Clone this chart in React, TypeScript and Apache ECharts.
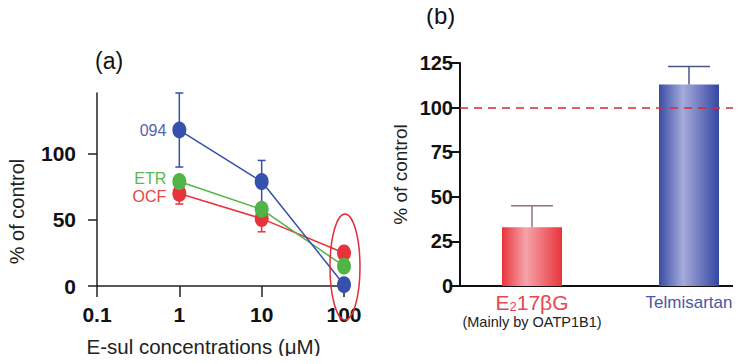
import React, { useEffect, useRef } from "react";
import * as echarts from "echarts";

// ---- Panel (a) data ----
const concentrations = [1, 10, 100];
const s094 = [118, 79, 1];
const err094 = [28, 16, 0];
const sETR = [79, 58, 15];
const errETR = [3, 4, 3];
const sOCF = [70, 51, 25];
const errOCF = [8, 10, 3];
const yTicksA = [0, 50, 100];

// ---- Panel (b) data ----
const barCategories = ["E217βG", "Telmisartan"];
const barValues = [33, 113];
const barErrors = [12, 10];
const controlLevel = 100;

const FONT = "Liberation Sans, Arial, Helvetica, sans-serif";
const BLUE = "#3550ad";
const GREEN = "#52b447";
const RED = "#e8333a";

function pts(vals: number[]) {
  return concentrations.map((c, i) => [c, vals[i]]);
}
function errData(vals: number[], errs: number[]) {
  return concentrations.map((c, i) => [c, vals[i], errs[i]]);
}

function errRender(color: string, capHalf: number) {
  return (params: any, api: any) => {
    const x = api.value(0);
    const y = api.value(1);
    const e = api.value(2);
    if (!e) return { type: "group", children: [] };
    const top = api.coord([x, y + e]);
    const bot = api.coord([x, y - e]);
    const st = { stroke: color, lineWidth: 1.5 };
    return {
      type: "group",
      children: [
        { type: "line", shape: { x1: top[0], y1: top[1], x2: bot[0], y2: bot[1] }, style: st },
        { type: "line", shape: { x1: top[0] - capHalf, y1: top[1], x2: top[0] + capHalf, y2: top[1] }, style: st },
        { type: "line", shape: { x1: bot[0] - capHalf, y1: bot[1], x2: bot[0] + capHalf, y2: bot[1] }, style: st },
      ],
    };
  };
}

export default function App() {
  const ref = useRef<HTMLDivElement>(null);
  useEffect(() => {
    if (!ref.current) return;
    const chart = echarts.init(ref.current, null, { renderer: "svg" });

    const lineSeries = (name: string, vals: number[], color: string, z: number) => ({
      name,
      type: "line",
      xAxisIndex: 0,
      yAxisIndex: 0,
      data: pts(vals),
      symbol: "circle",
      symbolSize: [14, 17],
      clip: false,
      z,
      lineStyle: { color, width: 1.5 },
      itemStyle: { color },
      label: { show: false },
    });

    const labelFirst = (vals: number[], text: string, color: string, offsetY: number) =>
      pts(vals).map((p, i) =>
        i === 0
          ? {
              value: p,
              label: {
                show: true,
                position: "left",
                distance: 6,
                offset: [0, offsetY],
                formatter: text,
                color,
                fontFamily: FONT,
                fontSize: 16,
              },
            }
          : { value: p }
      );

    const barErrRender = (params: any, api: any) => {
      const idx = api.value(0);
      const v = api.value(1);
      const e = api.value(2);
      const top = api.coord([idx, v + e]);
      const base = api.coord([idx, v]);
      const color = params.dataIndex === 0 ? "#957479" : "#4b5789";
      const st = { stroke: color, lineWidth: 1.5 };
      return {
        type: "group",
        children: [
          { type: "line", shape: { x1: top[0], y1: top[1], x2: base[0], y2: base[1] }, style: st },
          { type: "line", shape: { x1: top[0] - 21, y1: top[1], x2: top[0] + 21, y2: top[1] }, style: st },
        ],
      };
    };

    const option: any = {
      animation: false,
      backgroundColor: "#ffffff",
      textStyle: { fontFamily: FONT },
      grid: [
        { left: 97, top: 93, width: 247, height: 193 },
        { left: 460, top: 63, width: 273, height: 223 },
      ],
      xAxis: [
        {
          gridIndex: 0,
          type: "log",
          logBase: 10,
          min: 0.1,
          max: 100,
          name: "E-sul concentrations (μM)",
          nameLocation: "middle",
          nameGap: 50,
          nameTextStyle: { fontFamily: FONT, fontSize: 20.5, color: "#222", padding: [0, 34, 0, 0] },
          axisLine: { show: true, lineStyle: { color: "#222", width: 1.5 } },
          axisTick: { show: true, length: 11, lineStyle: { color: "#222", width: 1.5 } },
          minorTick: { show: false },
          splitLine: { show: false },
          axisLabel: {
            fontFamily: FONT,
            fontSize: 21,
            fontWeight: "bold",
            color: "#111",
            margin: 18,
            formatter: (v: number) => String(v),
          },
        },
        {
          gridIndex: 1,
          type: "value",
          min: -0.4586,
          max: 1.2803,
          axisLine: { show: true, onZero: false, lineStyle: { color: "#111", width: 2 } },
          axisTick: { show: false },
          splitLine: { show: false },
          axisLabel: {
            customValues: [0, 1],
            margin: 6,
            formatter: (v: number) =>
              v === 0
                ? "{n|E}{s|2}{n|17βG}\n{m|(Mainly by OATP1B1)}"
                : "{t|" + barCategories[v] + "}",
            rich: {
              n: { fontFamily: FONT, fontSize: 21, color: "#e8474f", lineHeight: 21 },
              s: { fontFamily: FONT, fontSize: 13, color: "#e8474f", verticalAlign: "bottom", padding: [9, 0, 0, 0], lineHeight: 21 },
              m: { fontFamily: FONT, fontSize: 14.5, color: "#222", lineHeight: 17 },
              t: { fontFamily: FONT, fontSize: 17, color: "#4a56a6", lineHeight: 21 },
            },
          },
        },
      ],
      yAxis: [
        {
          gridIndex: 0,
          type: "value",
          min: 0,
          max: 146,
          name: "% of control",
          nameLocation: "middle",
          nameRotate: 90,
          nameGap: 70,
          nameTextStyle: { fontFamily: FONT, fontSize: 20, color: "#222", padding: [0, 44, 0, 0] },
          axisLine: { show: true, onZero: false, lineStyle: { color: "#222", width: 1.5 } },
          axisTick: { show: true, length: 9, customValues: yTicksA, lineStyle: { color: "#222", width: 1.5 } },
          splitLine: { show: false },
          axisLabel: {
            customValues: yTicksA,
            fontFamily: FONT,
            fontSize: 21,
            fontWeight: "bold",
            color: "#111",
            margin: 21,
          },
        },
        {
          gridIndex: 1,
          type: "value",
          min: 0,
          max: 125,
          interval: 25,
          name: "% of control",
          nameLocation: "middle",
          nameRotate: 90,
          nameGap: 50,
          nameTextStyle: { fontFamily: FONT, fontSize: 19, color: "#222" },
          axisLine: { show: true, onZero: false, lineStyle: { color: "#111", width: 2 } },
          axisTick: { show: true, length: 9, lineStyle: { color: "#111", width: 2 } },
          splitLine: { show: false },
          axisLabel: {
            fontFamily: FONT,
            fontSize: 20,
            fontWeight: "bold",
            color: "#111",
            margin: 7,
          },
        },
      ],
      series: [
        // panel (a) error bars
        {
          type: "custom",
          xAxisIndex: 0,
          yAxisIndex: 0,
          renderItem: errRender(RED, 4),
          data: errData(sOCF, errOCF),
          z: 1,
          silent: true,
        },
        {
          type: "custom",
          xAxisIndex: 0,
          yAxisIndex: 0,
          renderItem: errRender(GREEN, 4),
          data: errData(sETR, errETR),
          z: 1,
          silent: true,
        },
        {
          type: "custom",
          xAxisIndex: 0,
          yAxisIndex: 0,
          renderItem: errRender(BLUE, 4),
          data: errData(s094, err094),
          z: 1,
          silent: true,
        },
        { ...lineSeries("OCF", sOCF, RED, 2), data: labelFirst(sOCF, "OCF", "#e84545", 3) },
        { ...lineSeries("ETR", sETR, GREEN, 3), data: labelFirst(sETR, "ETR", "#5cb84e", -3) },
        { ...lineSeries("094", s094, BLUE, 4), data: labelFirst(s094, "094", "#5a62b0", 0) },
        // panel (b) bars
        {
          type: "bar",
          xAxisIndex: 1,
          yAxisIndex: 1,
          barWidth: 60,
          data: barValues.map((v, i) => ({
            value: [i, v],
            itemStyle: {
              color: new echarts.graphic.LinearGradient(0, 0, 1, 0,
                i === 0
                  ? [
                      { offset: 0, color: "#e9343b" },
                      { offset: 0.4, color: "#f5a3ab" },
                      { offset: 1, color: "#e8353a" },
                    ]
                  : [
                      { offset: 0, color: "#3a4ba5" },
                      { offset: 0.4, color: "#a6abdb" },
                      { offset: 1, color: "#3546a2" },
                    ]),
            },
          })),
          z: 2,
          markLine: {
            silent: true,
            symbol: "none",
            label: { show: false },
            z: 6,
            lineStyle: { color: "#e0262e", type: [8, 6], width: 1.5 },
            data: [{ yAxis: controlLevel }],
          },
        },
        {
          type: "custom",
          xAxisIndex: 1,
          yAxisIndex: 1,
          renderItem: barErrRender,
          data: barValues.map((v, i) => [i, v, barErrors[i]]),
          z: 3,
          silent: true,
        },
      ],
      graphic: [
        {
          type: "text",
          left: 95,
          top: 49,
          style: { text: "(a)", fontFamily: FONT, fontSize: 23, fill: "#111" },
        },
        {
          type: "text",
          left: 426,
          top: 3,
          style: { text: "(b)", fontFamily: FONT, fontSize: 24, fill: "#111" },
        },
        {
          type: "ellipse",
          shape: { cx: 345, cy: 267, rx: 15, ry: 53 },
          style: { fill: "none", stroke: "#e0303a", lineWidth: 1.5 },
          z: 10,
        },
      ],
    };

    chart.setOption(option);
    return () => chart.dispose();
  }, []);

  return <div ref={ref} style={{ width: 741, height: 364, margin: -8 }} />;
}
